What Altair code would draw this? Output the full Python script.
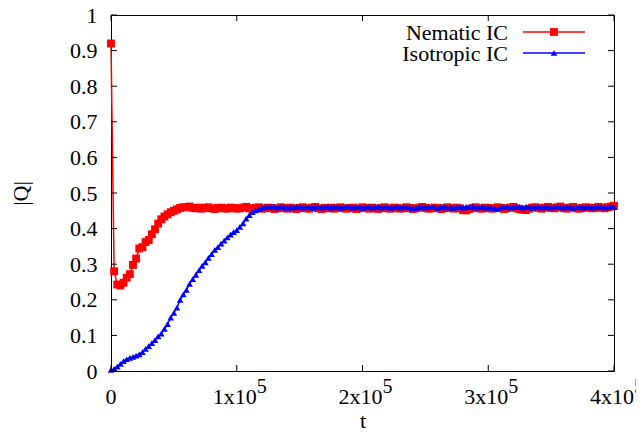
import altair as alt
import pandas as pd

STEP = 2500
nematic_q = [
    0.920, 0.280, 0.243, 0.240, 0.248, 0.262, 0.272, 0.298, 0.316, 0.344,
    0.348, 0.362, 0.368, 0.384, 0.398, 0.414, 0.426, 0.434, 0.440, 0.446,
    0.450, 0.454, 0.458, 0.460, 0.460,
    0.462, 0.458, 0.457, 0.459, 0.456, 0.458, 0.460, 0.457, 0.455, 0.458, 0.459, 0.457, 0.456, 0.459, 0.458, 0.456, 0.457,
    0.459, 0.461, 0.457, 0.455, 0.458, 0.460, 0.456, 0.457, 0.459, 0.458, 0.455, 0.457, 0.460, 0.458, 0.456, 0.459, 0.457,
    0.455, 0.458, 0.460, 0.457, 0.456, 0.459, 0.461, 0.457, 0.455, 0.458, 0.457, 0.459, 0.456, 0.458, 0.460, 0.457, 0.456,
    0.458, 0.459, 0.455, 0.457, 0.460, 0.458, 0.456, 0.459, 0.457, 0.455, 0.458, 0.460, 0.457, 0.456, 0.459, 0.458, 0.456,
    0.457, 0.460, 0.458, 0.455, 0.457, 0.459, 0.461, 0.458, 0.456, 0.457, 0.459, 0.458, 0.455, 0.457, 0.460, 0.458, 0.456,
    0.459, 0.457, 0.452, 0.451, 0.455, 0.458, 0.460, 0.457, 0.456, 0.459, 0.458, 0.456, 0.457, 0.460, 0.458, 0.455, 0.457,
    0.459, 0.461, 0.457, 0.455, 0.453, 0.452, 0.456, 0.459, 0.460, 0.458, 0.456, 0.459, 0.461, 0.458, 0.457, 0.460, 0.462,
    0.458, 0.456, 0.459, 0.461, 0.457, 0.456, 0.458, 0.460, 0.459, 0.457, 0.458, 0.461, 0.459, 0.457, 0.460, 0.462, 0.464,
]
isotropic_q = [
    0.003, 0.006, 0.012, 0.020, 0.028, 0.033, 0.037, 0.040, 0.043, 0.047,
    0.053, 0.062, 0.070, 0.078, 0.087, 0.097, 0.105, 0.118, 0.132, 0.150,
    0.163, 0.178, 0.200, 0.215, 0.228, 0.245, 0.258, 0.270, 0.283, 0.295,
    0.305, 0.318, 0.328, 0.340, 0.348, 0.358, 0.366, 0.375, 0.383, 0.390,
    0.396, 0.405, 0.415, 0.428, 0.438, 0.446, 0.451, 0.455, 0.458, 0.460,
    0.461, 0.460, 0.462, 0.459, 0.461, 0.460, 0.458, 0.461, 0.459, 0.460, 0.462, 0.459, 0.460, 0.461, 0.458, 0.460, 0.461, 0.459,
    0.460, 0.462, 0.459, 0.461, 0.460, 0.458, 0.460, 0.462, 0.460, 0.459, 0.461, 0.460, 0.458, 0.460, 0.461, 0.459, 0.460, 0.462,
    0.459, 0.460, 0.461, 0.458, 0.460, 0.462, 0.459, 0.461, 0.460, 0.459, 0.457, 0.458, 0.460, 0.461, 0.459, 0.460, 0.462, 0.460,
    0.458, 0.460, 0.461, 0.459, 0.460, 0.458, 0.461, 0.460, 0.459, 0.461, 0.460, 0.462, 0.459, 0.460, 0.461, 0.459, 0.460, 0.458,
    0.457, 0.456, 0.459, 0.460, 0.461, 0.459, 0.460, 0.462, 0.460, 0.459, 0.461, 0.460, 0.458, 0.460, 0.461, 0.459, 0.460, 0.461,
    0.459, 0.460, 0.462, 0.460, 0.459, 0.461, 0.460, 0.458, 0.460, 0.461, 0.459, 0.460, 0.461, 0.459, 0.460, 0.462, 0.460, 0.459,
    0.460, 0.461, 0.460,
]
x_ticks = [0, 100000, 200000, 300000, 400000]
x_tick_base = ["0", "1x10", "2x10", "3x10", "4x10"]
x_tick_sup = ["", "5", "5", "5", "5"]
y_ticks = [0, 0.1, 0.2, 0.3, 0.4, 0.5, 0.6, 0.7, 0.8, 0.9, 1]
series_names = ["Nematic IC", "Isotropic IC"]

W, H = 503, 356
FONT = "Liberation Serif"
RED, BLUE = "#ff0000", "#0000ff"

nem = pd.DataFrame({"t": [i * STEP for i in range(len(nematic_q))], "Q": nematic_q})
iso = pd.DataFrame({"t": [i * STEP for i in range(len(isotropic_q))], "Q": isotropic_q})
xt = pd.DataFrame({"t": x_ticks, "base": x_tick_base, "sup": x_tick_sup})
yt = pd.DataFrame({"Q": y_ticks})

xs = alt.Scale(domain=[0, 400000], nice=False, zero=False)
ys = alt.Scale(domain=[0, 1], nice=False)

xaxis = alt.Axis(labels=False, ticks=False, domain=False, grid=False, title="t",
                 titleFont=FONT, titleFontSize=22, titleFontWeight="normal", titleColor="black",
                 titleX=W / 2, titleY=56, titleBaseline="alphabetic", titleAlign="center")
yaxis = alt.Axis(values=y_ticks, format=".1~f", ticks=False, domain=False, grid=False,
                 labelOverlap=False, labelFont=FONT, labelFontSize=22, labelColor="black",
                 labelPadding=14, labelBound=False, labelFlush=False,
                 title="|Q|", titleFont=FONT, titleFontSize=22, titleFontWeight="normal",
                 titleColor="black", titleX=-91, titleY=H / 2, titleAngle=270,
                 titleAlign="center", titleBaseline="middle")
X = alt.X("t:Q", scale=xs, axis=xaxis)
Y = alt.Y("Q:Q", scale=ys, axis=yaxis)

red_line = alt.Chart(nem).mark_line(color=RED, strokeWidth=1.5).encode(x=X, y=Y)
red_pts = alt.Chart(nem).mark_point(shape="square", filled=True, color=RED, size=62, opacity=1).encode(x=X, y=Y)
blue_line = alt.Chart(iso).mark_line(color=BLUE, strokeWidth=1.5).encode(x=X, y=Y)
blue_pts = alt.Chart(iso).mark_point(shape="triangle-up", filled=True, color=BLUE, size=44, opacity=1).encode(x=X, y=Y)

TL = 6
tick_b = alt.Chart(xt).mark_rule(color="black", strokeWidth=1).encode(
    x=X, y=alt.value(H), y2=alt.value(H - TL))
tick_t = alt.Chart(xt).mark_rule(color="black", strokeWidth=1).encode(
    x=X, y=alt.value(0), y2=alt.value(TL))
tick_l = alt.Chart(yt).mark_rule(color="black", strokeWidth=1).encode(
    y=Y, x=alt.value(0), x2=alt.value(TL))
tick_r = alt.Chart(yt).mark_rule(color="black", strokeWidth=1).encode(
    y=Y, x=alt.value(W - TL), x2=alt.value(W))

lab0 = alt.Chart(xt).transform_filter("datum.t == 0").mark_text(
    font=FONT, fontSize=22, align="center", baseline="alphabetic", color="black").encode(
    x=X, y=alt.value(H + 33), text="base:N")
labn = alt.Chart(xt).transform_filter("datum.t > 0").mark_text(
    font=FONT, fontSize=22, align="right", baseline="alphabetic", dx=20, color="black").encode(
    x=X, y=alt.value(H + 33), text="base:N")
labs = alt.Chart(xt).transform_filter("datum.t > 0").mark_text(
    font=FONT, fontSize=20, align="left", baseline="alphabetic", dx=20, color="black").encode(
    x=X, y=alt.value(H + 22), text="sup:N")

leg = pd.DataFrame({"name": series_names})
def legend_row(i, color, shape, size, ly):
    d = leg.iloc[[i]]
    txt = alt.Chart(d).mark_text(font=FONT, fontSize=22, align="right", baseline="middle", color="black").encode(
        x=alt.value(397), y=alt.value(ly + 1), text="name:N")
    ln = alt.Chart(d).mark_rule(color=color, strokeWidth=1.5).encode(
        x=alt.value(412), x2=alt.value(474), y=alt.value(ly))
    pt = alt.Chart(d).mark_point(shape=shape, filled=True, color=color, size=size, opacity=1).encode(
        x=alt.value(443), y=alt.value(ly))
    return [txt, ln, pt]

legend_layers = legend_row(0, RED, "square", 62, 17) + legend_row(1, BLUE, "triangle-up", 44, 38)

chart = alt.layer(
    red_line, red_pts, blue_line, blue_pts,
    tick_b, tick_t, tick_l, tick_r, lab0, labn, labs, *legend_layers
).properties(
    width=W, height=H,
    background="white",
    autosize=alt.AutoSizeParams(type="none"),
    padding={"left": 103, "top": 7, "right": 22, "bottom": 59},
).configure_view(
    stroke="black", strokeWidth=1
)

chart.save("out.html", embed_options={"renderer": "svg", "actions": False})
